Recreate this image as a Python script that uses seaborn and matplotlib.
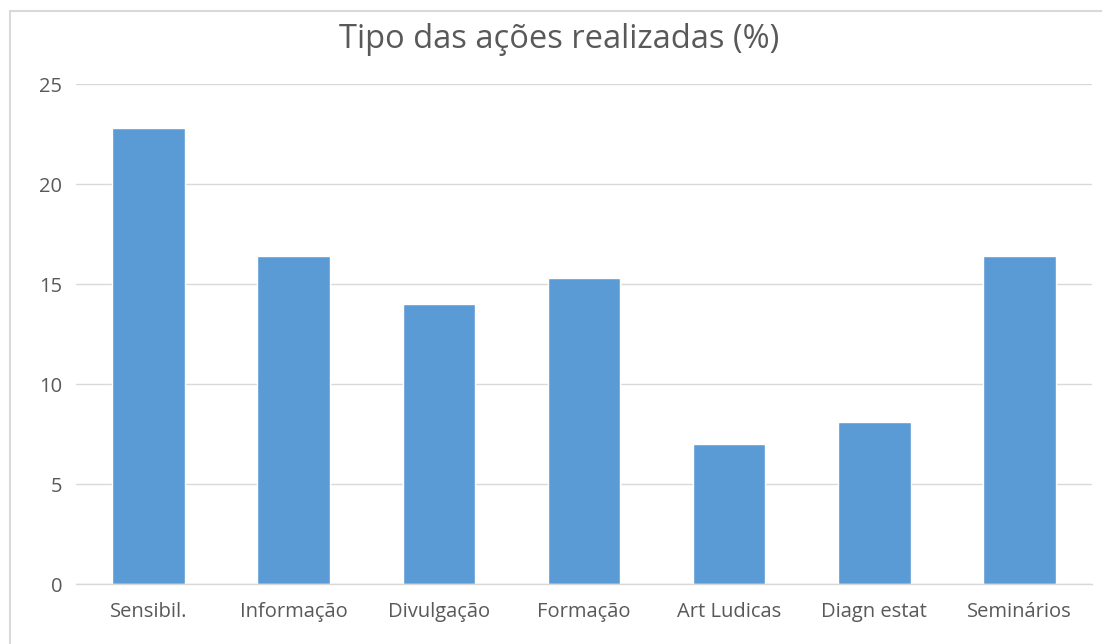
import matplotlib
matplotlib.use("Agg")
import matplotlib.pyplot as plt
import seaborn as sns
import pandas as pd
from matplotlib.patches import Rectangle

categories = ["Sensibil.", "Informação", "Divulgação", "Formação", "Art Ludicas", "Diagn estat", "Seminários"]
values = [22.8, 16.4, 14.0, 15.3, 7.0, 8.1, 16.4]
yticks = [0, 5, 10, 15, 20, 25]
title = "Tipo das ações realizadas (%)"

df = pd.DataFrame({"cat": categories, "val": values})

sns.set_style("white")
plt.rcParams['font.family'] = ['Open Sans', 'DejaVu Sans']

W, H = 1102, 644
fig = plt.figure(figsize=(W / 100, H / 100), dpi=100)
ax = fig.add_axes([76 / W, 1 - 584 / H, (1092 - 76) / W, (584 - 84) / H])

sns.barplot(data=df, x="cat", y="val", color="#5B9BD5", width=0.5, ax=ax, saturation=1)

ax.set_ylim(0, 25)
ax.set_xlim(-0.5, len(categories) - 0.5)
ax.set_yticks(yticks)
ax.set_yticklabels([str(t) for t in yticks])
ax.yaxis.grid(True, color="#D9D9D9", linewidth=1)
ax.set_axisbelow(True)
for s in ["top", "right", "left"]:
    ax.spines[s].set_visible(False)
ax.spines["bottom"].set_color("#D9D9D9")
ax.spines["bottom"].set_linewidth(1)
ax.tick_params(axis="both", length=0, labelsize=14.5, labelcolor="#595959")
ax.tick_params(axis="x", pad=13)
ax.tick_params(axis="y", pad=10)
ax.set_xlabel("")
ax.set_ylabel("")

fig.text(559 / W, 1 - 39 / H, title, ha="center", va="center",
         fontsize=23.5, color="#595959")

fig.patches.append(Rectangle((10 / W, -0.1), 1.2, 1 - 11 / H + 0.1, transform=fig.transFigure,
                             fill=False, edgecolor="#D9D9D9", linewidth=1.5))

fig.savefig("out.png", dpi=100)
